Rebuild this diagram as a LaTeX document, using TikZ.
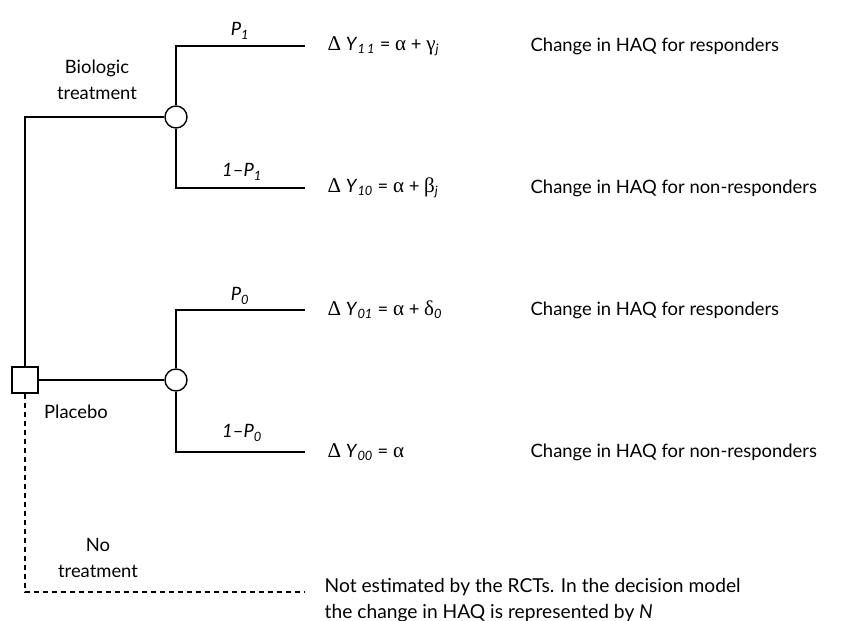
\documentclass[tikz,border=0pt]{standalone}
\usepackage{fontspec}
\setmainfont{Lato}
\newfontfamily\grk{Liberation Serif}
\newcommand{\mysub}[1]{\textsubscript{\itshape #1}}
\newcommand{\g}[1]{{\grk\fontsize{21}{25}\selectfont #1}}
\begin{document}
\begin{tikzpicture}[x=1pt,y=-1pt, line width=1.4pt,
  chance/.style={circle, draw, fill=white, minimum size=22pt, inner sep=0pt},
  decision/.style={rectangle, draw, fill=white, minimum size=26pt, inner sep=0pt},
  lbl/.style={font=\fontsize{18.4}{25.5}\selectfont, inner sep=0pt},
  eq/.style={lbl, anchor=west},
  note/.style={font=\fontsize{19.2}{25.5}\selectfont, inner sep=0pt, anchor=west, align=left},
  branch/.style={shorten >=22pt},
  nodash/.style={dash pattern=on 5pt off 4pt}]
\useasboundingbox (0,0) rectangle (844,621);
% nodes
\node[decision] (d) at (25,380) {};
\node[chance] (c1) at (176,117) {};
\node[chance] (c0) at (176,380) {};
% outcomes
\node[eq] (e11) at (327,46) {\g{Δ} \textit{Y}\mysub{1\,1} = \g{α} + \g{γ}\mysub{j}};
\node[eq] (e10) at (327,188) {\g{Δ} \textit{Y}\mysub{10} = \g{α} + \g{β}\mysub{j}};
\node[eq] (e01) at (327,310) {\g{Δ} \textit{Y}\mysub{01} = \g{α} + \g{δ}\mysub{0}};
\node[eq] (e00) at (327,452) {\g{Δ} \textit{Y}\mysub{00} = \g{α}};
\node[eq] (r11) at (530,46) {Change in HAQ for responders};
\node[eq] (r10) at (530,188) {Change in HAQ for non-responders};
\node[eq] (r01) at (530,310) {Change in HAQ for responders};
\node[eq] (r00) at (530,452) {Change in HAQ for non-responders};
\node[note] (ne) at (324,600) {Not estimated by the RCTs. In the decision model\\the change in HAQ is represented by \textit{N}};
\coordinate (dend) at (305,592);
% branch labels
\node[lbl] (bt) at (97,80) [align=center] {Biologic\\treatment};
\node[lbl] (pl) at (76,412) {Placebo};
\node[lbl] (nt) at (98,558) [align=center] {No\\treatment};
\node[lbl] (p1) at (240,31) {\textit{P}\mysub{1}};
\node[lbl] (q1) at (242,172) {\textit{1}–\textit{P}\mysub{1}};
\node[lbl] (p0) at (240,296) {\textit{P}\mysub{0}};
\node[lbl] (q0) at (242,433) {\textit{1}–\textit{P}\mysub{0}};
% connectors
\draw (d.north) |- (c1.west);
\draw (d.east) -- (c0.west);
\draw[branch] (c1.north) |- (e11.west);
\draw[branch] (c1.south) |- (e10.west);
\draw[branch] (c0.north) |- (e01.west);
\draw[branch] (c0.south) |- (e00.west);
\draw[nodash] (d.south) |- (dend);
\end{tikzpicture}
\end{document}
